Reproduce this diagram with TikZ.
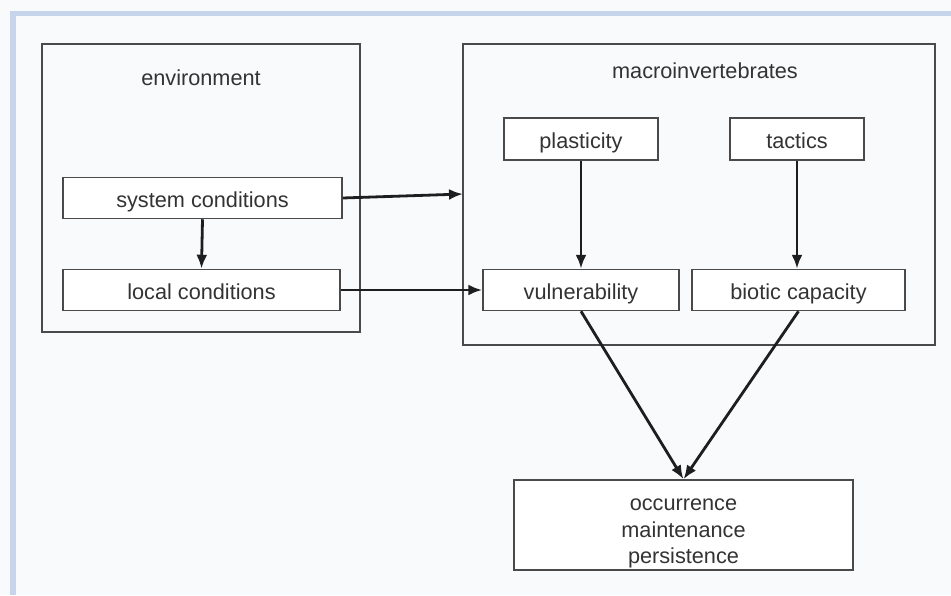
\documentclass[tikz,border=0pt]{standalone}
\usepackage{fontspec}
\setmainfont{Liberation Sans}
\usetikzlibrary{arrows.meta,positioning}
\definecolor{bgc}{HTML}{F9FAFC}
\definecolor{bandc}{HTML}{C6D4EC}
\definecolor{txtc}{HTML}{333333}
\definecolor{linec}{HTML}{4A4A4A}
\definecolor{arrc}{HTML}{1E1E1E}
\tikzset{
  box/.style={draw=linec, line width=1.5pt, fill=white, inner sep=0pt, text=txtc,
    font=\fontsize{21.7}{26.7}\selectfont, text height=18.6pt, text depth=0pt},
  group/.style={draw=linec, line width=1.5pt, inner sep=0pt},
  lbl/.style={inner sep=0pt, text=txtc, font=\fontsize{21.7}{26.7}\selectfont},
  arr/.style={draw=arrc, line width=2.8pt, -{Latex[length=14pt,width=11pt]}}
}
\begin{document}
\begin{tikzpicture}[x=1pt,y=-1pt]
\useasboundingbox (0,0) rectangle (951,595);
\fill[bgc] (0,0) rectangle (951,595);
\fill[bandc] (10,11) rectangle (951,16);
\fill[bandc] (10,11) rectangle (16,595);
% containers
\node[group, minimum width=318pt, minimum height=288pt] (env) at (201,188) {};
\node[group, minimum width=472pt, minimum height=301pt] (macro) at (699,194.5) {};
\node[lbl, anchor=base] (envlbl) at (201,85) {environment};
\node[lbl, anchor=base] (macrolbl) at (705,78) {macroinvertebrates};
% boxes
\node[box, minimum width=279pt, minimum height=41pt] (sys) at (202.5,198) {system conditions};
\node[box, minimum width=277pt, minimum height=41pt] (local) at (201.5,290) {local conditions};
\node[box, minimum width=154pt, minimum height=42pt] (plast) at (581,139) {plasticity};
\node[box, minimum width=134pt, minimum height=42pt] (tact) at (797,139) {tactics};
\node[box, minimum width=196pt, minimum height=41pt] (vuln) at (581,290) {vulnerability};
\node[box, minimum width=213pt, minimum height=41pt] (biot) at (798.5,290) {biotic capacity};
\node[box, minimum width=339pt, minimum height=90pt, text height=, text depth=] (out) at (683.5,525) {};
\node[lbl, align=center] (outtxt) at (683.5,533.5) {occurrence\\maintenance\\persistence};
\coordinate (macroin) at (463,194);
% connectors
\draw[arr] (sys.east) -- (macroin);
\draw[arr] (sys.south) -- (local.north);
\draw[arr] (local.east) -- (vuln.west);
\draw[arr] (plast.south) -- (vuln.north);
\draw[arr] (tact.south) -- (tact.south |- biot.north);
\draw[arr] (vuln.south) -- (out.north);
\draw[arr] (biot.south) -- (out.north);
\end{tikzpicture}
\end{document}
